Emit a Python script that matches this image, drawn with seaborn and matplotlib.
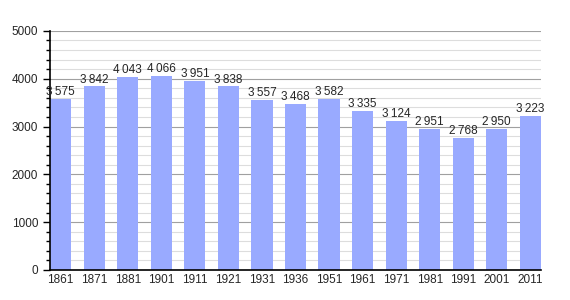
import matplotlib
matplotlib.use("Agg")
import matplotlib.pyplot as plt
import seaborn as sns
import pandas as pd
from matplotlib.ticker import MultipleLocator

years = ["1861", "1871", "1881", "1901", "1911", "1921", "1931", "1936", "1951",
         "1961", "1971", "1981", "1991", "2001", "2011"]
population = [3575, 3842, 4043, 4066, 3951, 3838, 3557, 3468, 3582,
              3335, 3124, 2951, 2768, 2950, 3223]

df = pd.DataFrame({"year": years, "pop": population})

sns.set_style("white")
plt.rcParams['font.family'] = ['Liberation Sans', 'DejaVu Sans']

fig = plt.figure(figsize=(5.7, 3.0), dpi=100)
ax = fig.add_axes([0.0877, 0.1, 0.8615, 0.797])

sns.barplot(data=df, x="year", y="pop", color="#99aaff", saturation=1,
            width=0.63, ax=ax, linewidth=0, edgecolor="none")
for p in ax.patches:
    p.set_zorder(2)

ax.set_ylim(0, 5000)
ax.set_xlim(-0.32, len(years) - 0.68)
ax.yaxis.set_major_locator(MultipleLocator(1000))
ax.yaxis.set_minor_locator(MultipleLocator(200))
ax.grid(which="major", axis="y", color="#a0a0a0", linewidth=0.8, zorder=0)
ax.grid(which="minor", axis="y", color="#dddddd", linewidth=0.8, zorder=0)
ax.set_axisbelow(True)

for s in ["top", "right"]:
    ax.spines[s].set_visible(False)
for s in ["left", "bottom"]:
    ax.spines[s].set_color("black")
    ax.spines[s].set_linewidth(1.2)
    ax.spines[s].set_zorder(4)

ax.tick_params(axis="y", which="major", length=5, width=1, color="black",
               direction="out", labelsize=8.5, left=True)
ax.tick_params(axis="y", which="minor", length=3, width=1, color="black",
               direction="out", left=True)
ax.tick_params(axis="x", length=0, labelsize=8.5, pad=3)
ax.set_xlabel("")
ax.set_ylabel("")

for i, v in enumerate(population):
    label = f"{v:,}".replace(",", "\u2009")
    ax.text(i, v + 15, label, ha="center", va="bottom", fontsize=8.5, zorder=5)

fig.savefig("out.png", dpi=100)
